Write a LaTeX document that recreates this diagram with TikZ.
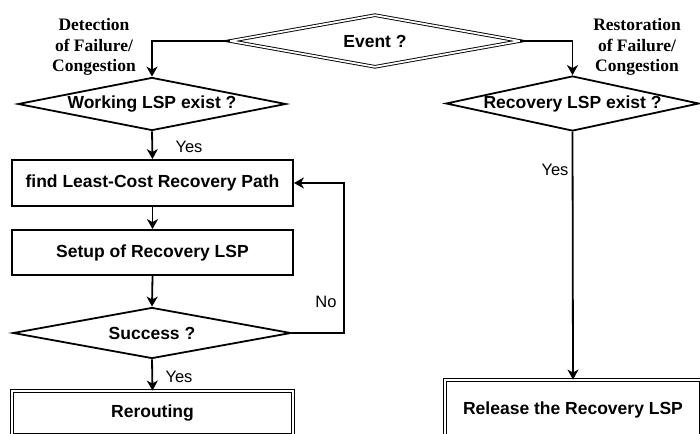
\documentclass[tikz,border=0pt]{standalone}
\usepackage{fontspec}
\setmainfont{Liberation Sans}
\newfontfamily\notefont{Liberation Serif}
\usetikzlibrary{shapes.geometric,arrows.meta}

\begin{document}
\begin{tikzpicture}[x=1pt,y=-1pt,line width=1.8pt,
        box/.style={draw,rectangle,minimum width=281pt,inner sep=0pt,font=\fontsize{17.5}{20}\selectfont\bfseries},
        endbox/.style={box,line width=0.9pt,double,double distance=2pt},
        test/.style={draw,diamond,inner sep=0pt,font=\fontsize{17.5}{20}\selectfont\bfseries},
        note/.style={align=center,font=\fontsize{17.5}{20.5}\selectfont\notefont\bfseries},
        answer/.style={font=\fontsize{16.5}{20}\selectfont},
        flow/.style={-{Stealth[length=10pt,width=11pt,inset=3pt]}}]
            		\useasboundingbox (0,0) rectangle (700,433);
            		\clip (0,0) rectangle (700,433);

            		\node (event) at (375,41) [test,aspect=5.6,line width=0.9pt,double,double distance=1.8pt,minimum width=290pt,minimum height=52pt] {Event ?};

            		\node (work) at (152,104) [test,aspect=5,minimum width=268pt,minimum height=53pt] {Working LSP exist ?};
            		\node (find) at (152.5,183) [box,minimum height=46pt] {find Least-Cost Recovery Path};
            		\node (setup) at (152.5,252.5) [box,minimum height=45pt] {Setup of Recovery LSP};
            		\node (success) at (152,333) [test,aspect=5.4,minimum width=278pt,minimum height=51pt] {Success ?};
            		\node (reroute) at (152.5,413) [endbox,minimum height=44pt] {Rerouting};

            		\node (recov) at (572.5,103.5) [test,aspect=4.6,minimum width=251pt,minimum height=53pt] {Recovery LSP exist ?};
            		\node (release) at (573,410) [endbox,minimum width=256pt,minimum height=60pt] {Release the Recovery LSP};

            		\node (detect) at (94,47) [note] {Detection\\of Failure/\\Congestion};
            		\node (restore) at (637,47) [note] {Restoration\\of Failure/\\Congestion};

            		\coordinate (loop) at (344,333);

            		\draw[flow] (event.west) -| (work.north);
            		\draw[flow] (work.south) -- (find.north);
            		\draw[flow] (find.south) -- (setup.north);
            		\draw[flow] (setup.south) -- (success.north);
            		\draw[flow] (success.south) -- (reroute.north);
            		\draw[flow] (success.east) -- (loop) |- (find.east);
            		\draw[flow] (event.east) -| (recov.north);
            		\draw[flow] (recov.south) -- (release.north);

            		\node (yes1) at (189,147) [answer] {Yes};
            		\node (no) at (326,302) [answer] {No};
            		\node (yes2) at (179,377) [answer] {Yes};
            		\node (yes3) at (555,170) [answer] {Yes};

        		\end{tikzpicture}
\end{document}
